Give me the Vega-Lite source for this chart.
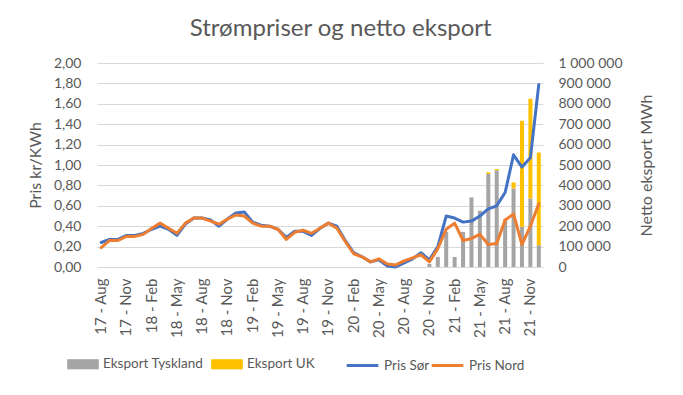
{
  "$schema": "https://vega.github.io/schema/vega-lite/v6.json",
  "width": 446,
  "height": 204,
  "autosize": "none",
  "padding": {"left": 97, "top": 63, "right": 140, "bottom": 128},
  "background": "white",
  "config": {
    "font": "Lato",
    "view": {"stroke": null},
    "axis": {"labelColor": "#595959", "titleColor": "#595959", "labelFontSize": 14, "titleFontSize": 16, "titleFontWeight": "normal", "labelFont": "Lato", "titleFont": "Lato", "ticks": false, "domain": false},
    "legend": {"orient": "none", "direction": "horizontal", "title": null, "labelFontSize": 13.5, "labelColor": "#595959", "labelFont": "Lato", "labelOffset": 4, "legendY": 285}
  },
  "title": {"text": "Strømpriser og netto eksport", "fontSize": 24, "fontWeight": "normal", "color": "#595959", "font": "Lato", "anchor": "middle", "frame": "bounds", "offset": 15},
  "data": {"values": [
    {"m": "17 - Aug", "sor": 0.24, "nord": 0.19},
    {"m": "17 - Sep", "sor": 0.27, "nord": 0.26},
    {"m": "17 - Oct", "sor": 0.27, "nord": 0.26},
    {"m": "17 - Nov", "sor": 0.31, "nord": 0.30},
    {"m": "17 - Dec", "sor": 0.31, "nord": 0.30},
    {"m": "18 - Jan", "sor": 0.33, "nord": 0.32},
    {"m": "18 - Feb", "sor": 0.37, "nord": 0.38},
    {"m": "18 - Mar", "sor": 0.40, "nord": 0.43},
    {"m": "18 - Apr", "sor": 0.37, "nord": 0.38},
    {"m": "18 - May", "sor": 0.31, "nord": 0.33},
    {"m": "18 - Jun", "sor": 0.42, "nord": 0.43},
    {"m": "18 - Jul", "sor": 0.48, "nord": 0.48},
    {"m": "18 - Aug", "sor": 0.48, "nord": 0.48},
    {"m": "18 - Sep", "sor": 0.46, "nord": 0.45},
    {"m": "18 - Oct", "sor": 0.40, "nord": 0.42},
    {"m": "18 - Nov", "sor": 0.47, "nord": 0.47},
    {"m": "18 - Dec", "sor": 0.53, "nord": 0.51},
    {"m": "19 - Jan", "sor": 0.54, "nord": 0.50},
    {"m": "19 - Feb", "sor": 0.44, "nord": 0.43},
    {"m": "19 - Mar", "sor": 0.41, "nord": 0.40},
    {"m": "19 - Apr", "sor": 0.40, "nord": 0.40},
    {"m": "19 - May", "sor": 0.37, "nord": 0.37},
    {"m": "19 - Jun", "sor": 0.29, "nord": 0.27},
    {"m": "19 - Jul", "sor": 0.35, "nord": 0.34},
    {"m": "19 - Aug", "sor": 0.35, "nord": 0.36},
    {"m": "19 - Sep", "sor": 0.31, "nord": 0.33},
    {"m": "19 - Oct", "sor": 0.38, "nord": 0.38},
    {"m": "19 - Nov", "sor": 0.43, "nord": 0.43},
    {"m": "19 - Dec", "sor": 0.40, "nord": 0.38},
    {"m": "20 - Jan", "sor": 0.26, "nord": 0.25},
    {"m": "20 - Feb", "sor": 0.14, "nord": 0.13},
    {"m": "20 - Mar", "sor": 0.10, "nord": 0.10},
    {"m": "20 - Apr", "sor": 0.05, "nord": 0.05},
    {"m": "20 - May", "sor": 0.07, "nord": 0.08},
    {"m": "20 - Jun", "sor": 0.01, "nord": 0.03},
    {"m": "20 - Jul", "sor": 0.00, "nord": 0.02},
    {"m": "20 - Aug", "sor": 0.04, "nord": 0.06},
    {"m": "20 - Sep", "sor": 0.08, "nord": 0.09},
    {"m": "20 - Oct", "sor": 0.14, "nord": 0.12},
    {"m": "20 - Nov", "sor": 0.07, "nord": 0.05, "de": 15000, "uk": 0},
    {"m": "20 - Dec", "sor": 0.20, "nord": 0.18, "de": 50000, "uk": 0},
    {"m": "21 - Jan", "sor": 0.50, "nord": 0.37, "de": 172000, "uk": 0},
    {"m": "21 - Feb", "sor": 0.48, "nord": 0.43, "de": 49000, "uk": 0},
    {"m": "21 - Mar", "sor": 0.44, "nord": 0.26, "de": 172000, "uk": 0},
    {"m": "21 - Apr", "sor": 0.45, "nord": 0.28, "de": 341000, "uk": 0},
    {"m": "21 - May", "sor": 0.50, "nord": 0.32, "de": 276000, "uk": 0},
    {"m": "21 - Jun", "sor": 0.57, "nord": 0.22, "de": 456000, "uk": 8000},
    {"m": "21 - Jul", "sor": 0.60, "nord": 0.23, "de": 474000, "uk": 6000},
    {"m": "21 - Aug", "sor": 0.73, "nord": 0.46, "de": 230000, "uk": 4000},
    {"m": "21 - Sep", "sor": 1.10, "nord": 0.52, "de": 385000, "uk": 30000},
    {"m": "21 - Oct", "sor": 0.98, "nord": 0.22, "de": 197000, "uk": 520000},
    {"m": "21 - Nov", "sor": 1.07, "nord": 0.40, "de": 336000, "uk": 489000},
    {"m": "21 - Dec", "sor": 1.79, "nord": 0.62, "de": 107000, "uk": 454000}
  ]},
  "encoding": {
    "x": {
      "field": "m", "type": "ordinal",
      "scale": {"paddingInner": 0, "paddingOuter": 0,
        "domain": ["17 - Aug", "17 - Sep", "17 - Oct", "17 - Nov", "17 - Dec", "18 - Jan", "18 - Feb", "18 - Mar", "18 - Apr", "18 - May", "18 - Jun", "18 - Jul", "18 - Aug", "18 - Sep", "18 - Oct", "18 - Nov", "18 - Dec", "19 - Jan", "19 - Feb", "19 - Mar", "19 - Apr", "19 - May", "19 - Jun", "19 - Jul", "19 - Aug", "19 - Sep", "19 - Oct", "19 - Nov", "19 - Dec", "20 - Jan", "20 - Feb", "20 - Mar", "20 - Apr", "20 - May", "20 - Jun", "20 - Jul", "20 - Aug", "20 - Sep", "20 - Oct", "20 - Nov", "20 - Dec", "21 - Jan", "21 - Feb", "21 - Mar", "21 - Apr", "21 - May", "21 - Jun", "21 - Jul", "21 - Aug", "21 - Sep", "21 - Oct", "21 - Nov", "21 - Dec"]},
      "axis": {
        "title": null, "grid": false, "labelAngle": -90, "labelPadding": 11, "labelFontSize": 15,
        "values": ["17 - Aug", "17 - Nov", "18 - Feb", "18 - May", "18 - Aug", "18 - Nov", "19 - Feb", "19 - May", "19 - Aug", "19 - Nov", "20 - Feb", "20 - May", "20 - Aug", "20 - Nov", "21 - Feb", "21 - May", "21 - Aug", "21 - Nov"]
      }
    }
  },
  "layer": [
    {
      "transform": [
        {"fold": ["de", "uk"], "as": ["k", "v"]},
        {"filter": "datum.v > 0"},
        {"lookup": "k", "from": {"data": {"values": [{"k": "de", "s": "Eksport Tyskland"}, {"k": "uk", "s": "Eksport UK"}]}, "key": "k", "fields": ["s"]}}
      ],
      "mark": {"type": "bar", "width": 4},
      "encoding": {
        "y": {
          "field": "v", "type": "quantitative", "stack": "zero",
          "scale": {"domain": [0, 1000000]},
          "axis": {"orient": "right", "title": "Netto eksport MWh", "titleAngle": 270, "grid": false,
                   "labelExpr": "replace(replace(format(datum.value, ','), ',', ' '), ',', ' ')",
                   "values": [0, 100000, 200000, 300000, 400000, 500000, 600000, 700000, 800000, 900000, 1000000],
                   "labelPadding": 15, "titlePadding": 32}
        },
        "order": {"field": "k", "sort": "ascending"},
        "fill": {
          "field": "s", "type": "nominal",
          "scale": {"domain": ["Eksport Tyskland", "Eksport UK"], "range": ["#A5A5A5", "#FFC000"]},
          "legend": {"symbolType": "M-1,-0.32H1V0.32H-1Z", "symbolSize": 1000, "symbolStrokeWidth": 0, "legendX": -30, "columnPadding": 7}
        }
      }
    },
    {
      "transform": [
        {"fold": ["sor", "nord"], "as": ["k", "p"]},
        {"lookup": "k", "from": {"data": {"values": [{"k": "sor", "s": "Pris Sør"}, {"k": "nord", "s": "Pris Nord"}]}, "key": "k", "fields": ["s"]}}
      ],
      "mark": {"type": "line", "strokeWidth": 3, "strokeJoin": "round", "strokeCap": "round"},
      "encoding": {
        "y": {
          "field": "p", "type": "quantitative",
          "scale": {"domain": [0, 2]},
          "axis": {"orient": "left", "title": "Pris kr/KWh", "grid": true, "gridColor": "#D9D9D9",
                   "labelExpr": "replace(format(datum.value, '.2f'), '.', ',')",
                   "values": [0, 0.2, 0.4, 0.6, 0.8, 1.0, 1.2, 1.4, 1.6, 1.8, 2.0],
                   "labelPadding": 16, "titlePadding": 10}
        },
        "stroke": {
          "field": "s", "type": "nominal",
          "scale": {"domain": ["Pris Sør", "Pris Nord"], "range": ["#4472C4", "#ED7D31"]},
          "legend": {"symbolType": "stroke", "symbolSize": 1000, "symbolStrokeWidth": 3, "legendX": 248, "columnPadding": -15}
        }
      }
    }
  ],
  "resolve": {"scale": {"y": "independent"}}
}
